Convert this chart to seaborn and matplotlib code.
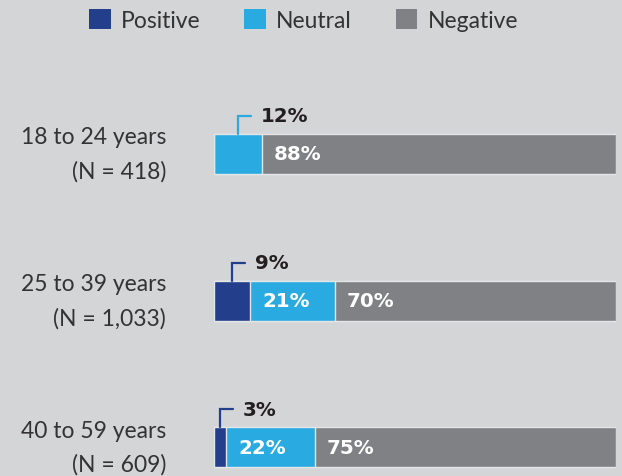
import matplotlib
matplotlib.use("Agg")
import matplotlib.pyplot as plt
from matplotlib.patches import Patch
import seaborn as sns
import pandas as pd
import numpy as np

categories = ["18 to 24 years", "25 to 39 years", "40 to 59 years"]
sample_sizes = ["(N = 418)", "(N = 1,033)", "(N = 609)"]
positive = [0, 9, 3]
neutral = [12, 21, 22]
negative = [88, 70, 75]
series_names = ["Positive", "Neutral", "Negative"]
colors = {"Positive": "#233e8b", "Neutral": "#29abe2", "Negative": "#808184"}
BG = "#d4d5d7"
EDGE = "#e4e5e7"
FONT = ["Lato", "DejaVu Sans"]
BOLD_FONT = ["DejaVu Sans"]

sns.set_theme(style="white")
plt.rcParams["font.family"] = FONT

df = pd.DataFrame({"cat": categories, "Positive": positive, "Neutral": neutral, "Negative": negative})
df["c1"] = df["Positive"]
df["c2"] = df["Positive"] + df["Neutral"]
df["c3"] = df["c2"] + df["Negative"]

fig = plt.figure(figsize=(6.22, 4.77), dpi=100, facecolor=BG)
ax = fig.add_axes([214 / 622, 0, 402 / 622, 1])
ax.set_facecolor(BG)

bar_h = 40 / 146.5
for col, name in [("c3", "Negative"), ("c2", "Neutral"), ("c1", "Positive")]:
    sns.barplot(data=df, x=col, y="cat", orient="h", color=colors[name], width=bar_h,
                edgecolor=EDGE, linewidth=1.0, saturation=1, ax=ax, order=categories)

ax.set_xlim(0, 100)
ax.set_ylim((477 - 155) / 146.5, -155 / 146.5)
ax.set_xlabel("")
ax.set_ylabel("")
ax.set_xticks([])
ax.set_yticks([])
for s in ax.spines.values():
    s.set_visible(False)

px_x = 100 / 402.0
px_y = 1 / 146.5

for i, (c, n) in enumerate(zip(categories, sample_sizes)):
    ax.text(-48 * px_x, i - 17 * px_y, c, ha="right", va="center", fontsize=16.5,
            color="#333333", clip_on=False)
    ax.text(-48 * px_x, i + 17 * px_y, n, ha="right", va="center", fontsize=16.5,
            color="#333333", clip_on=False)

for i in range(len(categories)):
    starts = [0, positive[i], positive[i] + neutral[i]]
    vals = [positive[i], neutral[i], negative[i]]
    for j, name in enumerate(series_names):
        v = vals[j]
        if v == 0:
            continue
        if v < 15:
            xc = starts[j] + v / 2
            ytop = i - bar_h / 2
            yl = ytop - 18 * px_y
            ax.plot([xc, xc, xc + 13 * px_x], [ytop, yl, yl], color=colors[name], lw=1.6,
                    solid_joinstyle="miter", clip_on=False)
            ax.text(xc + 23 * px_x, yl, f"{v}%", ha="left", va="center", fontsize=14.3,
                    fontweight="bold", color="#231f20", family=BOLD_FONT)
        else:
            ax.text(starts[j] + 12 * px_x, i, f"{v}%", ha="left", va="center", fontsize=14.3,
                    fontweight="bold", color="white", family=BOLD_FONT)

handles = [Patch(facecolor=colors[n], edgecolor="none", label=n) for n in series_names]
fig.legend(handles=handles, loc="center", bbox_to_anchor=(0.488, 1 - 21 / 477), ncol=3,
           frameon=False, fontsize=16.5, handlelength=0.95, handleheight=0.95,
           handletextpad=0.45, columnspacing=1.9, labelcolor="#333333")

fig.savefig("out.png", dpi=100, facecolor=BG)
